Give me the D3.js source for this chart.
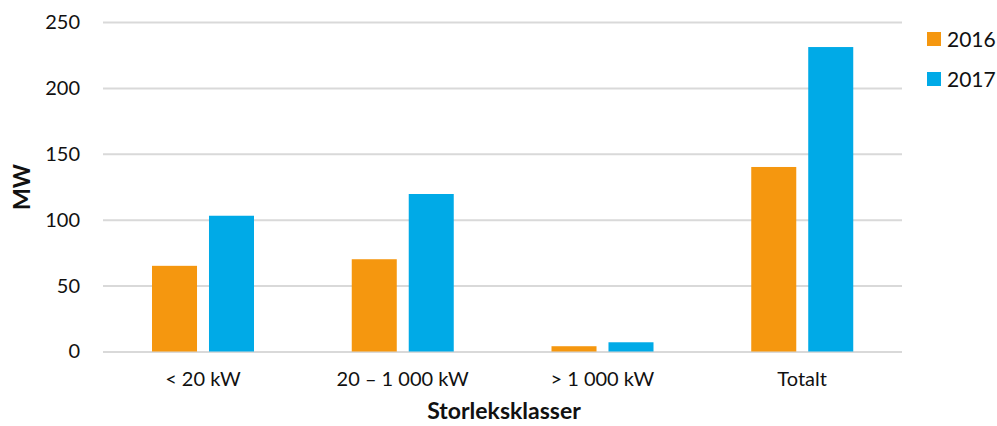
<!DOCTYPE html>
<html>
<head>
<meta charset="utf-8">
<script src="https://cdn.jsdelivr.net/npm/d3@7"></script>
<style>
  body { margin: 0; background: #fff; }
  text { font-family: Lato, "Open Sans", sans-serif; fill: #111; }
</style>
</head>
<body>
<div id="viz"></div>
<script>
//-------Data-----------
var categories = ["< 20 kW", "20 \u2013 1 000 kW", "> 1 000 kW", "Totalt"];
var series = ["2016", "2017"];
var values2016 = [65, 70, 4, 140];
var values2017 = [103, 119.5, 7, 231];
var yTicks = [0, 50, 100, 150, 200, 250];
var colors = ["#F5970F", "#00AAE7"];

//---------------------------------
var width = 997,
    height = 426;
var margin = {top: 22, right: 95, bottom: 75, left: 103};
var plotWidth = 902 - margin.left;
var plotHeight = 351.5 - margin.top;

var svg = d3.select("#viz")
  .append("svg")
    .attr("width", width)
    .attr("height", height);

var container = svg.append("g").attr("transform", "translate(" + margin.left + ", " + margin.top + ")");

//------Scales-----------
var xScale = d3.scaleBand()
    .domain(categories)
    .range([0, plotWidth]);

var xInner = d3.scaleBand()
    .domain(series)
    .range([49, 151])
    .paddingInner(0.21);

var yScale = d3.scaleLinear()
    .domain([0, 250])
    .range([plotHeight, 0]);

//------Gridlines & y axis-----------
var yAxis = d3.axisLeft(yScale)
    .tickValues(yTicks)
    .tickSize(-plotWidth)
    .tickPadding(23);

var gYAxis = container.append('g')
    .attr('id', 'y-axis')
    .call(yAxis);
gYAxis.select('.domain').remove();
gYAxis.selectAll('line').style('stroke', '#d9d9d9').style('stroke-width', '2px');
gYAxis.selectAll('text').style('font-size', '20px').style('fill', '#111');

//------Bars--------------------
var data = categories.map(function(c, i) {
  return {cat: c, vals: [values2016[i], values2017[i]]};
});

var groups = container.append('g')
    .attr('id', 'bars')
    .selectAll('g')
    .data(data)
    .enter()
    .append('g')
    .attr('transform', function(d) { return 'translate(' + xScale(d.cat) + ',0)'; });

groups.selectAll('rect')
    .data(function(d) { return d.vals.map(function(v, j) { return {s: series[j], v: v, j: j}; }); })
    .enter()
    .append('rect')
    .attr('x', function(d) { return xInner(d.s); })
    .attr('width', xInner.bandwidth())
    .attr('y', function(d) { return yScale(d.v); })
    .attr('height', function(d) { return plotHeight - yScale(d.v); })
    .style('fill', function(d) { return colors[d.j]; });

//------x axis-----------
var xAxis = d3.axisBottom(xScale).tickSize(0).tickPadding(20);
var gXAxis = container.append('g')
    .attr('id', 'x-axis')
    .attr('transform', 'translate(0,' + plotHeight + ')')
    .call(xAxis);
gXAxis.select('.domain').remove();
gXAxis.selectAll('text').style('font-size', '20px').style('fill', '#111');

//------Titles-----------
svg.append('text')
    .attr('x', 504)
    .attr('y', 419)
    .attr('text-anchor', 'middle')
    .style('font-size', '23px')
    .style('font-weight', 'bold')
    .text('Storleksklasser');

svg.append('text')
    .attr('transform', 'translate(30,187) rotate(-90)')
    .attr('text-anchor', 'middle')
    .style('font-size', '23px')
    .style('font-weight', 'bold')
    .text('MW');

//------Legend-----------
var legend = svg.append('g')
    .attr('transform', 'translate(927,32)')
    .selectAll('g')
    .data(series)
    .enter()
    .append('g')
    .attr('transform', function(d, i) { return 'translate(0,' + (i * 40) + ')'; });

legend.append('rect')
    .attr('width', 14)
    .attr('height', 14)
    .style('fill', function(d, i) { return colors[i]; });

legend.append('text')
    .attr('x', 20)
    .attr('y', 14.5)
    .style('font-size', '21px')
    .text(function(d) { return d; });
</script>
</body>
</html>
